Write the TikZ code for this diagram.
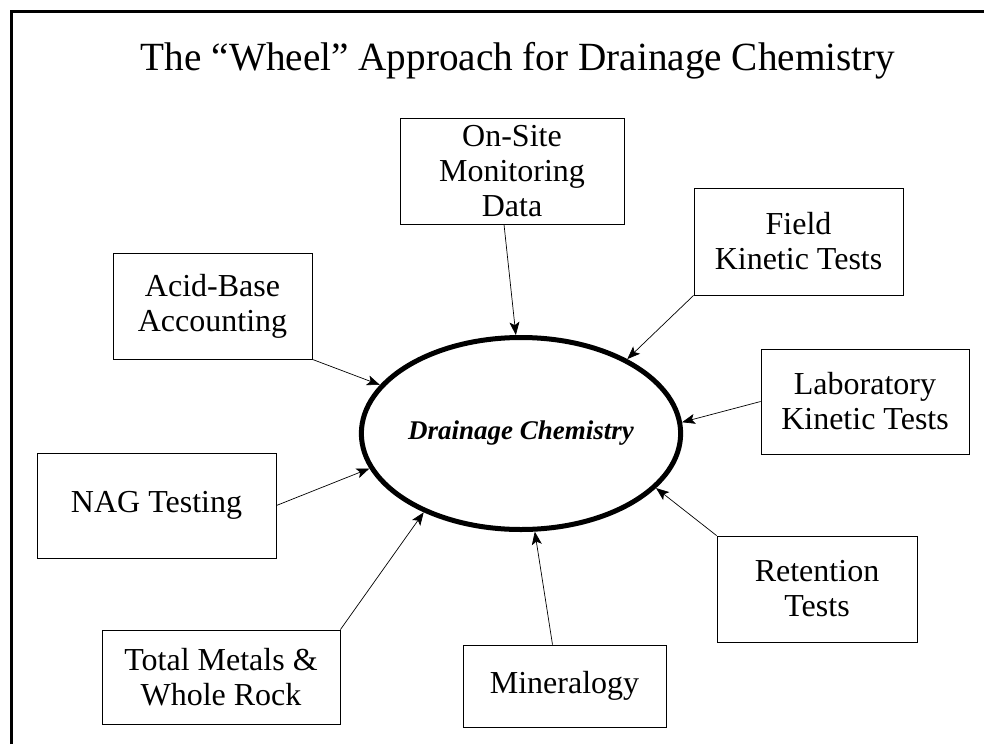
\documentclass[tikz,border=0pt]{standalone}
\usepackage{fontspec}
\setmainfont{Liberation Serif}
\usetikzlibrary{arrows.meta,shapes.geometric}
\begin{document}
\begin{tikzpicture}[x=1pt,y=-1pt,
    src/.style={draw,line width=0.8pt,align=center,inner sep=0pt,font=\fontsize{32}{35}\selectfont},
    feed/.style={-{Stealth[length=13pt,width=10pt,inset=3pt]},line width=0.7pt}]
  \useasboundingbox (0,0) rectangle (984,744);
  \draw[line width=3pt] (11,744) -- (11,11) -- (984,11);
  \node[anchor=base,font=\fontsize{40}{40}\selectfont] (title) at (518,70) {\scalebox{0.98}[1]{The “Wheel” Approach for Drainage Chemistry}};
  \node[draw,ellipse,line width=5pt,minimum width=307pt,minimum height=192pt,inner sep=0pt,
        font=\fontsize{27}{27}\selectfont\bfseries\itshape] (chem) at (521,433.5) {Drainage Chemistry};
  \node[src,minimum width=199pt,minimum height=106pt] (acid) at (212.5,306) {Acid-Base\\Accounting};
  \node[src,minimum width=224pt,minimum height=106pt] (onsite) at (512,171) {On-Site\\Monitoring\\Data};
  \node[src,minimum width=209pt,minimum height=107pt] (field) at (798.5,241.5) {Field\\Kinetic Tests};
  \node[src,minimum width=208pt,minimum height=105pt] (lab) at (865,401.5) {Laboratory\\Kinetic Tests};
  \node[src,minimum width=200pt,minimum height=106pt] (ret) at (817,589) {Retention\\Tests};
  \node[src,minimum width=203pt,minimum height=82pt] (mineral) at (564.5,686) {Mineralogy};
  \node[src,minimum width=238pt,minimum height=94pt] (metals) at (221,677) {Total Metals \&\\Whole Rock};
  \node[src,minimum width=239pt,minimum height=105pt] (nag) at (156.5,505.5) {NAG Testing};
  \draw[feed] (acid.south east) -- (chem.161.9);
  \draw[feed] ([xshift=-8pt]onsite.south) -- (chem.93.3);
  \draw[feed] (field.south west) -- (chem.35.1);
  \draw[feed] (lab.west) -- (chem.4.8);
  \draw[feed] (ret.north west) -- (chem.338.5);
  \draw[feed] ([xshift=-12pt]mineral.north) -- (chem.278.8);
  \draw[feed] (metals.north east) -- (chem.219.9);
  \draw[feed] (nag.east) -- (chem.193.3);
\end{tikzpicture}
\end{document}
